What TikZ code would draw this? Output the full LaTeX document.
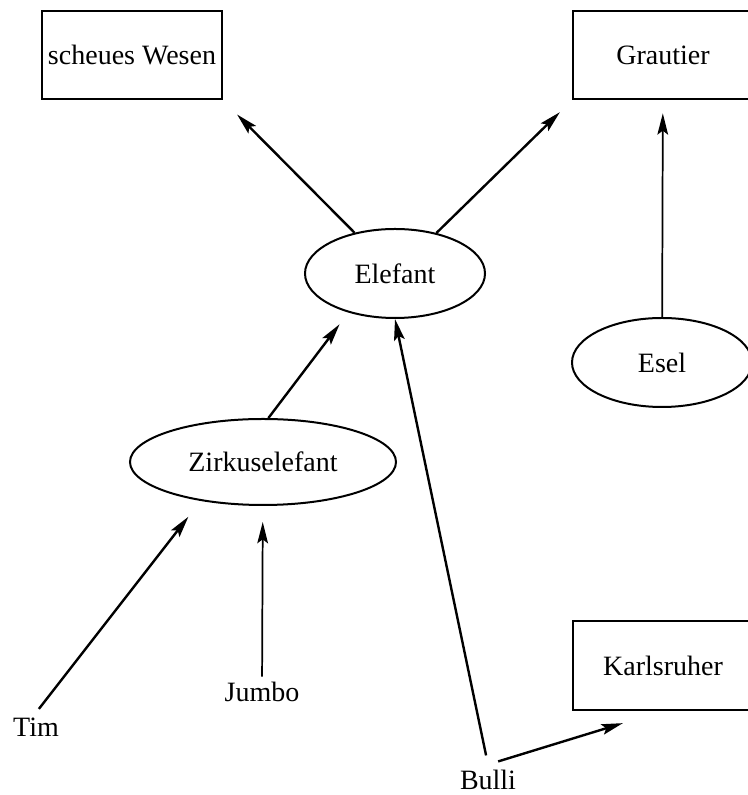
\documentclass[tikz,border=0pt]{standalone}
\usepackage{fontspec}
\setmainfont{Liberation Serif}
\usetikzlibrary{shapes.geometric,arrows.meta}

\begin{document}
\begin{tikzpicture}[->,>={Stealth[length=16pt,width=8pt,inset=3pt]},
                    line width=1.8pt,x=0.75pt,y=0.75pt,
                    font=\fontsize{21}{25}\selectfont,
                    begriff/.style={rectangle,draw,line width=1.5pt,inner sep=2pt,
                                    minimum width=135pt,minimum height=66.5pt},
                    klasse/.style={ellipse,draw,line width=1.5pt,inner sep=0pt,
                                   minimum width=135pt,minimum height=66.75pt},
                    objekt/.style={inner sep=3.3pt}]
  \useasboundingbox (0,0) rectangle (748,795);

  \node[begriff]  (wesen)      at (132,740)   {scheues Wesen};
  \node[begriff]  (grautier)   at (663,740)   {Grautier};
  \node[klasse]   (elefant)    at (395,521.5) {Elefant};
  \node[klasse]   (esel)       at (662,432.5) {Esel};
  \node[klasse,minimum width=199.5pt,minimum height=64.5pt]
                  (zirkus)     at (263,333)   {Zirkuselefant};
  \node[begriff]  (karlsruher) at (663,129.5) {Karlsruher};
  \node[objekt]   (tim)        at (36,67.5)   {Tim};
  \node[objekt]   (jumbo)      at (262,103)   {Jumbo};
  \node[objekt]   (bulli)      at (488,15)    {Bulli};

  \path (elefant)     edge [shorten >=15pt]                    (wesen.south east)
                      edge [shorten >=12.75pt]                 (grautier.south west)
        (esel)        edge [line width=1.3pt,shorten >=9.75pt] (grautier)
        (zirkus.83)   edge [shorten >=11pt]                    (elefant.220)
        (tim.north)   edge [shorten <=3.5pt,shorten >=15pt]    (zirkus.212)
        (jumbo)       edge [line width=1.3pt,shorten >=12pt]   (zirkus)
        (bulli.north) edge [shorten <=7pt]                     (elefant.south)
                      edge [shorten <=8pt,shorten >=31.5pt]    (karlsruher.south);
\end{tikzpicture}
\end{document}
